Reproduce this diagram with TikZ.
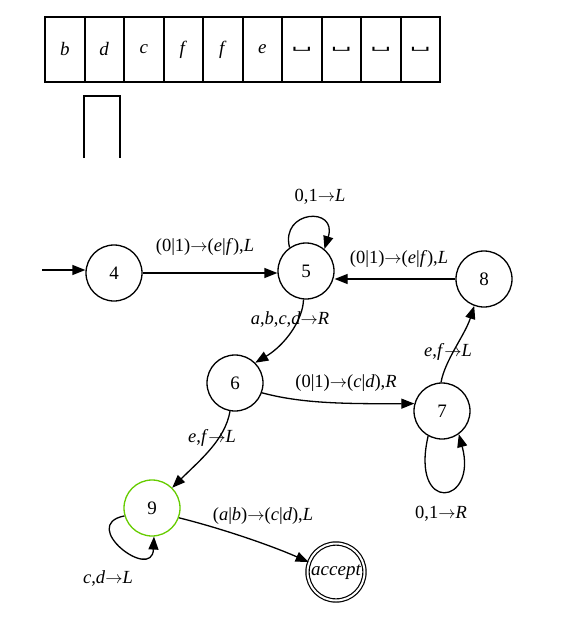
\documentclass[tikz,border=0pt]{standalone}
\usepackage{fontspec}
\usepackage{graphicx}
\setmainfont{Liberation Serif}
\newfontfamily\dvs{DejaVu Serif}
\usetikzlibrary{arrows.meta}
\definecolor{accgreen}{RGB}{102,204,0}
\newcommand{\ar}{$\rightarrow$}
\newcommand{\blank}{\scalebox{1.4}[0.65]{\dvs\fontsize{19}{19}\selectfont ␣}}
\begin{document}
\begin{tikzpicture}[x=1pt,y=-1pt,
  state/.style={draw, circle, line width=1.3pt, minimum size=56pt, inner sep=0pt, font=\fontsize{19}{20}\selectfont},
  edge/.style={line width=1.3pt, -{Triangle[length=13pt,width=10pt]}},
  lbl/.style={font=\fontsize{18.5}{20}\selectfont, inner sep=0pt},
  cell/.style={draw, line width=2pt, minimum width=39.5pt, minimum height=65pt, inner sep=0pt, anchor=north west, font=\fontsize{19}{20}\selectfont}]
\useasboundingbox (0,0) rectangle (582,618);
% tape
\foreach \i/\t in {1/\textit{b},2/\textit{d},3/\textit{c},4/\textit{f},5/\textit{f},6/\textit{e},7/\blank,8/\blank,9/\blank,10/\blank}
  \node[cell] (t\i) at ({44+39.5*(\i-1)},16) {\t};
% head
\draw[line width=2pt] (84,158) -- (84,96) -- (120,96) -- (120,158);
% states
\node[state] (s4) at (114,273) {4};
\node[state] (s5) at (306,271) {5};
\node[state] (s8) at (484,279) {8};
\node[state] (s6) at (235,383) {6};
\node[state] (s7) at (442,411) {7};
\node[state, draw=accgreen] (s9) at (152,508) {9};
\node[draw, circle, double, double distance=2pt, line width=1.2pt, minimum size=57pt, inner sep=0pt, font=\fontsize{19}{20}\selectfont\itshape] (acc) at (336,572) {accept};
% labels
\node[lbl] (l55) at (320,197) {0,1\ar\textit{L}};
\node[lbl] (l45) at (205,247) {(0|1)\ar(\textit{e}|\textit{f}),\textit{L}};
\node[lbl] (l85) at (399,259) {(0|1)\ar(\textit{e}|\textit{f}),\textit{L}};
\node[lbl] (l56) at (290,320) {\textit{a},\textit{b},\textit{c},\textit{d}\ar\textit{R}};
\node[lbl] (l67) at (346,383) {(0|1)\ar(\textit{c}|\textit{d}),\textit{R}};
\node[lbl] (l78) at (448,352) {\textit{e},\textit{f}\ar\textit{L}};
\node[lbl] (l69) at (212,438) {\textit{e},\textit{f}\ar\textit{L}};
\node[lbl] (l77) at (441,514) {0,1\ar\textit{R}};
\node[lbl] (l99) at (108,578) {\textit{c},\textit{d}\ar\textit{L}};
\node[lbl] (l9a) at (263,516) {(\textit{a}|\textit{b})\ar(\textit{c}|\textit{d}),\textit{L}};
% edges
\coordinate (init) at (42,270);
\draw[edge] (init) -- (init -| s4.west);
\draw[edge] (s4.east) -- (s4.east -| s5.west);
\draw[edge] (s5.125) .. controls (280,210) and (338,206) .. (s5.50);
\draw[edge] (s8.west) -- (s5.east |- s8.west);
\draw[edge] (s5.265) .. controls (303,320) and (285,345) .. (s6.45);
\draw[edge] (s6.-20) .. controls (300,403) and (340,404) .. (s7.165);
\draw[edge] (s7.92) .. controls (445,360) and (465,335) .. (s8.-110);
\draw[edge] (s7.241) .. controls (410,515) and (478,505) .. (s7.-54);
\draw[edge] (s6.-100) .. controls (225,440) and (200,460) .. (s9.45);
\draw[edge] (s9.196) .. controls (78,525) and (152,582) .. (s9.-86);
\draw[edge] (s9.-20) .. controls (220,528) and (270,545) .. (acc.160);
\end{tikzpicture}
\end{document}
